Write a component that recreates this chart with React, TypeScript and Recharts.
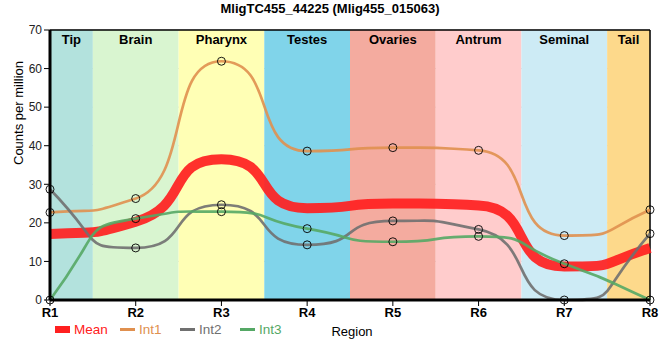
import React from "react"
import {
  CartesianGrid,
  Legend,
  Line,
  LineChart,
  ReferenceArea,
  ReferenceLine,
  XAxis,
  YAxis,
} from "recharts"

const regions = ["R1", "R2", "R3", "R4", "R5", "R6", "R7", "R8"]
const int1 = [22.7, 26.3, 61.9, 38.6, 39.5, 38.8, 16.7, 23.4]
const int2 = [28.7, 13.5, 24.7, 14.3, 20.5, 18.3, 0, 17.2]
const int3 = [0, 21.1, 22.9, 18.5, 15.1, 16.5, 9.4, 0]
const mean = [17.1, 20.3, 36.5, 23.8, 25.0, 24.5, 8.7, 13.5]

const tissues = ["Tip", "Brain", "Pharynx", "Testes", "Ovaries", "Antrum", "Seminal", "Tail"]
const tissueStart = [1, 1.5, 2.5, 3.5, 4.5, 5.5, 6.5, 7.5]
const tissueEnd = [1.5, 2.5, 3.5, 4.5, 5.5, 6.5, 7.5, 8]
const tissueColors = ["#b3e2dd", "#d9f5d0", "#ffffb5", "#80d4ea", "#f4ab9f", "#ffcccc", "#cdebf5", "#fdd98b"]

const yTicks = [0, 10, 20, 30, 40, 50, 60, 70]

const data = regions.map((r, i) => ({
  x: i + 1,
  region: r,
  Mean: mean[i],
  Int1: int1[i],
  Int2: int2[i],
  Int3: int3[i],
}))

const font = "'Liberation Sans', Arial, sans-serif"

const dot = { r: 4, fill: "none", stroke: "#000", strokeWidth: 1 }

// monotone tangents, but with longer bezier handles so the curve
// sits flat near the points and turns sharply between them
function longHandleMonotone(k: number) {
  return function (context: any) {
    let xs: number[] = []
    let ys: number[] = []
    return {
      areaStart() {},
      areaEnd() {},
      lineStart() {
        xs = []
        ys = []
      },
      point(x: number, y: number) {
        xs.push(+x)
        ys.push(+y)
      },
      lineEnd() {
        const n = xs.length
        if (n === 0) return
        context.moveTo(xs[0], ys[0])
        if (n === 1) return
        if (n === 2) {
          context.lineTo(xs[1], ys[1])
          return
        }
        const h: number[] = []
        const s: number[] = []
        for (let i = 0; i < n - 1; i++) {
          h[i] = xs[i + 1] - xs[i]
          s[i] = h[i] ? (ys[i + 1] - ys[i]) / h[i] : 0
        }
        const t: number[] = []
        for (let i = 1; i < n - 1; i++) {
          const p = (s[i - 1] * h[i] + s[i] * h[i - 1]) / (h[i - 1] + h[i])
          const sg = (v: number) => (v < 0 ? -1 : 1)
          t[i] = (sg(s[i - 1]) + sg(s[i])) * Math.min(Math.abs(s[i - 1]), Math.abs(s[i]), 0.5 * Math.abs(p)) || 0
        }
        t[0] = (3 * s[0] - t[1]) / 2
        t[n - 1] = (3 * s[n - 2] - t[n - 2]) / 2
        for (let i = 0; i < n - 1; i++) {
          const dx = h[i] * k
          context.bezierCurveTo(
            xs[i] + dx,
            ys[i] + dx * t[i],
            xs[i + 1] - dx,
            ys[i + 1] - dx * t[i + 1],
            xs[i + 1],
            ys[i + 1]
          )
        }
      },
    }
  }
}

const curve = longHandleMonotone(0.65) as any

const legendItems = [
  { name: "Mean", color: "#ff2020", thick: true, w: 65 },
  { name: "Int1", color: "#e0904f", thick: false, w: 60 },
  { name: "Int2", color: "#707070", thick: false, w: 60 },
  { name: "Int3", color: "#55a865", thick: false, w: 60 },
]

function LegendContent() {
  return (
    <div style={{ display: "flex", fontFamily: font, fontSize: 13.5 }}>
      {legendItems.map((it) => (
        <div key={it.name} style={{ display: "flex", alignItems: "center", width: it.w }}>
          <div
            style={{
              width: 15,
              height: it.thick ? 7 : 3,
              background: it.color,
              marginRight: 4,
            }}
          />
          <span style={{ color: it.color }}>{it.name}</span>
        </div>
      ))}
    </div>
  )
}

export default function App() {
  return (
    <div style={{ position: "absolute", left: 0, top: 0, width: 660, height: 360, fontFamily: font }}>
      <div
        style={{
          position: "absolute",
          top: 1,
          left: 0,
          width: 660,
          textAlign: "center",
          fontSize: 13,
          fontWeight: "bold",
        }}
      >
        MligTC455_44225 (Mlig455_015063)
      </div>
      <LineChart width={660} height={360} data={data} margin={{ top: 30, right: 10, bottom: 10, left: 0 }}>
        {tissues.map((t, i) => (
          <ReferenceArea
            key={t}
            x1={tissueStart[i]}
            x2={tissueEnd[i]}
            y1={0}
            y2={70}
            fill={tissueColors[i]}
            fillOpacity={1}
            stroke="none"
            label={{ value: t, position: "insideTop", fill: "#000", fontSize: 13, fontWeight: "bold", offset: 5 }}
          />
        ))}
        <CartesianGrid stroke="#cccccc" strokeDasharray="" />
        <XAxis
          dataKey="x"
          type="number"
          domain={[1, 8]}
          ticks={[1, 2, 3, 4, 5, 6, 7, 8]}
          tickFormatter={(v) => regions[v - 1]}
          height={30}
          axisLine={{ stroke: "#000", strokeWidth: 3 }}
          tickLine={{ stroke: "#000" }}
          tick={{ fill: "#000", fontSize: 13, fontWeight: "bold" }}
          label={{ value: "Region", position: "insideBottom", offset: -6, fill: "#000", fontSize: 13, dx: 2 }}
        />
        <YAxis
          domain={[0, 70]}
          ticks={yTicks}
          width={50}
          axisLine={{ stroke: "#000", strokeWidth: 3 }}
          tickLine={{ stroke: "#000" }}
          tick={{ fill: "#222", fontSize: 12 }}
          label={{ value: "Counts per million", angle: -90, position: "insideLeft", offset: 18, fill: "#000", fontSize: 13 }}
        />
        <ReferenceLine y={70} stroke="#000" strokeWidth={1.5} />
        <ReferenceLine x={8} stroke="#000" strokeWidth={1.5} />
        <Line
          type={curve}
          dataKey="Mean"
          stroke="#ff2020"
          strokeOpacity={0.92}
          strokeWidth={10}
          dot={false}
          isAnimationActive={false}
        />
        <Line type={curve} dataKey="Int1" stroke="#e0904f" strokeWidth={2.7} strokeOpacity={0.9} dot={dot} isAnimationActive={false} />
        <Line type={curve} dataKey="Int2" stroke="#707070" strokeWidth={2.7} strokeOpacity={0.9} dot={dot} isAnimationActive={false} />
        <Line type={curve} dataKey="Int3" stroke="#55a865" strokeWidth={2.7} strokeOpacity={0.9} dot={dot} isAnimationActive={false} />
        <Legend
          content={<LegendContent />}
          wrapperStyle={{ position: "absolute", left: 55, top: 322, width: 300, height: 20 }}
        />
      </LineChart>
    </div>
  )
}
